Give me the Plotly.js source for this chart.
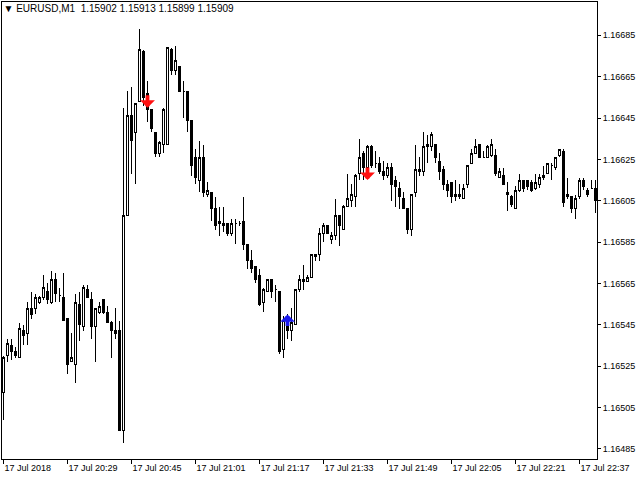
<!DOCTYPE html>
<html>
<head>
<meta charset="utf-8">
<script src="https://cdn.plot.ly/plotly-3.0.1.min.js"></script>
<style>
  html, body { margin: 0; padding: 0; background: #ffffff; }
  #chart { width: 640px; height: 480px; }
  #chart .boxlayer path { shape-rendering: crispEdges; }
</style>
</head>
<body>
<div id="chart"></div>
<script>
// ---- Data: EURUSD M1, 17 Jul 2018, 20:13 .. 22:41 (one bar per minute) ----
const startHour = 20, startMinute = 13, barCount = 149;
const times = [];
for (let i = 0; i < barCount; i++) {
  const m = startHour * 60 + startMinute + i;
  times.push(String(Math.floor(m / 60)).padStart(2, '0') + ':' + String(m % 60).padStart(2, '0'));
}

const openPrices = [
  1.16512,1.16530,1.16535,1.16532,1.16529,1.16542,1.16541,1.16553,1.16553,1.16556,
  1.16558,1.16561,1.16556,1.16567,1.16559,1.16558,1.16548,1.16527,1.16526,1.16555,
  1.16544,1.16562,1.16557,1.16544,1.16551,1.16557,1.16551,1.16546,1.16542,1.16542,
  1.16494,1.16598,1.16646,1.16638,1.16653,1.16677,1.16657,1.16649,1.16638,1.16628,
  1.16632,1.16632,1.16678,1.16668,1.16670,1.16658,1.16658,1.16644,1.16626,1.16615,
  1.16626,1.16608,1.16609,1.16601,1.16595,1.16594,1.16594,1.16589,1.16594,1.16594,
  1.16595,1.16584,1.16576,1.16573,1.16569,1.16556,1.16561,1.16567,1.16562,1.16561,
  1.16533,1.16547,1.16542,1.16545,1.16562,1.16567,1.16566,1.16568,1.16578,1.16579,
  1.16589,1.16593,1.16586,1.16588,1.16598,1.16591,1.16602,1.16605,1.16607,1.16618,
  1.16628,1.16621,1.16631,1.16623,1.16623,1.16619,1.16617,1.16621,1.16615,1.16611,
  1.16606,1.16601,1.16591,1.16609,1.16620,1.16619,1.16632,1.16631,1.16632,1.16624,
  1.16620,1.16613,1.16614,1.16608,1.16608,1.16606,1.16613,1.16623,1.16628,1.16632,
  1.16626,1.16626,1.16627,1.16627,1.16616,1.16617,1.16609,1.16607,1.16601,1.16610,
  1.16615,1.16615,1.16614,1.16611,1.16613,1.16616,1.16618,1.16622,1.16621,1.16627,
  1.16629,1.16608,1.16607,1.16601,1.16607,1.16615,1.16610,1.16611,1.16611
];
const highPrices = [
  1.16530,1.16538,1.16538,1.16534,1.16546,1.16545,1.16556,1.16561,1.16560,1.16559,
  1.16569,1.16565,1.16571,1.16570,1.16563,1.16570,1.16548,1.16541,1.16560,1.16561,
  1.16564,1.16564,1.16561,1.16553,1.16556,1.16557,1.16554,1.16547,1.16553,1.16547,
  1.16650,1.16658,1.16660,1.16652,1.16688,1.16678,1.16663,1.16649,1.16638,1.16634,
  1.16650,1.16679,1.16679,1.16680,1.16670,1.16663,1.16658,1.16644,1.16630,1.16634,
  1.16632,1.16614,1.16609,1.16607,1.16602,1.16602,1.16594,1.16596,1.16596,1.16595,
  1.16607,1.16584,1.16581,1.16573,1.16572,1.16563,1.16567,1.16567,1.16564,1.16561,
  1.16549,1.16550,1.16553,1.16562,1.16569,1.16574,1.16569,1.16579,1.16579,1.16592,
  1.16594,1.16593,1.16590,1.16606,1.16598,1.16603,1.16618,1.16613,1.16618,1.16635,
  1.16629,1.16632,1.16632,1.16629,1.16626,1.16624,1.16623,1.16623,1.16617,1.16614,
  1.16609,1.16601,1.16608,1.16632,1.16626,1.16638,1.16637,1.16638,1.16632,1.16628,
  1.16622,1.16615,1.16614,1.16615,1.16613,1.16613,1.16622,1.16630,1.16635,1.16632,
  1.16629,1.16632,1.16635,1.16630,1.16621,1.16621,1.16614,1.16608,1.16612,1.16618,
  1.16615,1.16615,1.16615,1.16618,1.16618,1.16622,1.16623,1.16623,1.16626,1.16630,
  1.16630,1.16616,1.16607,1.16608,1.16616,1.16616,1.16611,1.16615,1.16615
];
const lowPrices = [
  1.16499,1.16527,1.16528,1.16529,1.16529,1.16535,1.16535,1.16548,1.16550,1.16555,
  1.16557,1.16555,1.16555,1.16556,1.16556,1.16547,1.16521,1.16527,1.16517,1.16537,
  1.16542,1.16558,1.16538,1.16527,1.16550,1.16550,1.16546,1.16529,1.16538,1.16494,
  1.16488,1.16598,1.16618,1.16613,1.16653,1.16651,1.16643,1.16638,1.16626,1.16626,
  1.16628,1.16632,1.16666,1.16666,1.16658,1.16645,1.16638,1.16617,1.16613,1.16609,
  1.16607,1.16607,1.16595,1.16591,1.16588,1.16590,1.16588,1.16588,1.16584,1.16593,
  1.16581,1.16572,1.16570,1.16565,1.16554,1.16551,1.16561,1.16558,1.16556,1.16531,
  1.16529,1.16538,1.16537,1.16545,1.16561,1.16562,1.16566,1.16568,1.16576,1.16576,
  1.16585,1.16589,1.16584,1.16586,1.16583,1.16591,1.16602,1.16602,1.16602,1.16615,
  1.16615,1.16617,1.16621,1.16621,1.16618,1.16615,1.16616,1.16605,1.16602,1.16601,
  1.16601,1.16589,1.16588,1.16607,1.16617,1.16617,1.16623,1.16629,1.16623,1.16615,
  1.16610,1.16607,1.16604,1.16605,1.16606,1.16606,1.16611,1.16623,1.16628,1.16626,
  1.16626,1.16626,1.16626,1.16617,1.16616,1.16613,1.16600,1.16602,1.16601,1.16609,
  1.16609,1.16610,1.16609,1.16610,1.16611,1.16615,1.16618,1.16615,1.16620,1.16626,
  1.16602,1.16606,1.16599,1.16596,1.16606,1.16610,1.16607,1.16611,1.16599
];
const closePrices = [
  1.16529,1.16536,1.16532,1.16530,1.16543,1.16540,1.16553,1.16550,1.16558,1.16558,
  1.16563,1.16557,1.16567,1.16560,1.16559,1.16547,1.16526,1.16529,1.16556,1.16545,
  1.16563,1.16558,1.16544,1.16553,1.16554,1.16551,1.16546,1.16542,1.16541,1.16494,
  1.16598,1.16646,1.16634,1.16652,1.16678,1.16655,1.16649,1.16640,1.16628,1.16633,
  1.16649,1.16679,1.16668,1.16673,1.16658,1.16658,1.16644,1.16622,1.16616,1.16626,
  1.16609,1.16610,1.16601,1.16593,1.16594,1.16593,1.16589,1.16594,1.16594,1.16594,
  1.16584,1.16576,1.16572,1.16567,1.16555,1.16562,1.16567,1.16561,1.16562,1.16532,
  1.16547,1.16542,1.16546,1.16562,1.16567,1.16566,1.16568,1.16579,1.16579,1.16589,
  1.16593,1.16589,1.16588,1.16598,1.16593,1.16602,1.16606,1.16608,1.16617,1.16626,
  1.16621,1.16631,1.16622,1.16623,1.16619,1.16617,1.16621,1.16613,1.16612,1.16607,
  1.16601,1.16591,1.16608,1.16620,1.16619,1.16631,1.16631,1.16637,1.16626,1.16619,
  1.16613,1.16610,1.16607,1.16607,1.16607,1.16611,1.16622,1.16628,1.16631,1.16626,
  1.16626,1.16631,1.16632,1.16618,1.16619,1.16613,1.16608,1.16603,1.16610,1.16615,
  1.16611,1.16612,1.16610,1.16614,1.16616,1.16617,1.16623,1.16622,1.16626,1.16630,
  1.16604,1.16607,1.16601,1.16606,1.16615,1.16612,1.16608,1.16611,1.16605
];

// Signal arrows (bar index, price at arrow tip)
const sellArrowBars = [36, 91];
const sellArrowTips = [1.16650, 1.16615];
const buyArrowBars = [71];
const buyArrowTips = [1.16550];

// Axis ticks
const xTickTimes = ['20:13','20:29','20:45','21:01','21:17','21:33','21:49','22:05','22:21','22:37'];
const xTickLabels = ['17 Jul 2018','17 Jul 20:29','17 Jul 20:45','17 Jul 21:01','17 Jul 21:17',
                     '17 Jul 21:33','17 Jul 21:49','17 Jul 22:05','17 Jul 22:21','17 Jul 22:37'];
const headerText = '\u25BC EURUSD,M1\u00A0\u00A01.15902 1.15913 1.15899 1.15909';

// ---- Chart ----
const candles = {
  type: 'candlestick',
  x: times,
  open: openPrices,
  high: highPrices,
  low: lowPrices,
  close: closePrices,
  increasing: { line: { color: '#000000', width: 1 }, fillcolor: '#ffffff' },
  decreasing: { line: { color: '#000000', width: 1 }, fillcolor: '#000000' },
  whiskerwidth: 0,
  hoverinfo: 'none',
  showlegend: false
};

const arrowStyle = { showarrow: true, ax: 0, arrowwidth: 3.8, arrowhead: 1, arrowsize: 0.65,
                     standoff: 0, startstandoff: 0, text: '', xref: 'x', yref: 'y' };
const annotations = [];
sellArrowBars.forEach((b, k) => annotations.push(Object.assign({}, arrowStyle, {
  x: times[b], y: sellArrowTips[k], ay: -14, arrowcolor: '#ff1010'
})));
buyArrowBars.forEach((b, k) => annotations.push(Object.assign({}, arrowStyle, {
  x: times[b], y: buyArrowTips[k], ay: 13, arrowcolor: '#1a1aee'
})));

const layout = {
  width: 640, height: 480,
  margin: { l: 2, r: 43, t: 2, b: 21, pad: 0 },
  paper_bgcolor: '#ffffff',
  plot_bgcolor: '#ffffff',
  showlegend: false,
  boxgap: 0.5, boxgroupgap: 0,
  font: { family: 'Liberation Sans, Arial, sans-serif', size: 9, color: '#000000' },
  title: {
    text: headerText,
    x: 0.0055, xanchor: 'left', xref: 'container',
    y: 0.983, yanchor: 'middle', yref: 'container',
    font: { family: 'Liberation Sans, Arial, sans-serif', size: 10, color: '#000000' }
  },
  xaxis: {
    type: 'category',
    range: [-0.375, 148.375],
    rangeslider: { visible: false },
    showgrid: false, zeroline: false,
    showline: true, mirror: true, linecolor: '#000000', linewidth: 1,
    ticks: 'outside', ticklen: 4, tickcolor: '#000000', tickwidth: 1,
    tickmode: 'array', tickvals: xTickTimes, ticktext: xTickLabels,
    ticklabelposition: 'outside right',
    tickfont: { size: 9, color: '#000000' },
    fixedrange: true
  },
  yaxis: {
    side: 'right',
    range: [1.16480066, 1.16701106],
    showgrid: false, zeroline: false,
    showline: true, mirror: true, linecolor: '#000000', linewidth: 1,
    ticks: 'outside', ticklen: 3, tickcolor: '#000000', tickwidth: 1,
    tickmode: 'linear', tick0: 1.16485, dtick: 0.0002, tickformat: '.5f',
    tickfont: { size: 9, color: '#000000' },
    fixedrange: true
  },
  annotations: annotations
};

Plotly.newPlot('chart', [candles], layout, { staticPlot: true, displayModeBar: false });
</script>
</body>
</html>
